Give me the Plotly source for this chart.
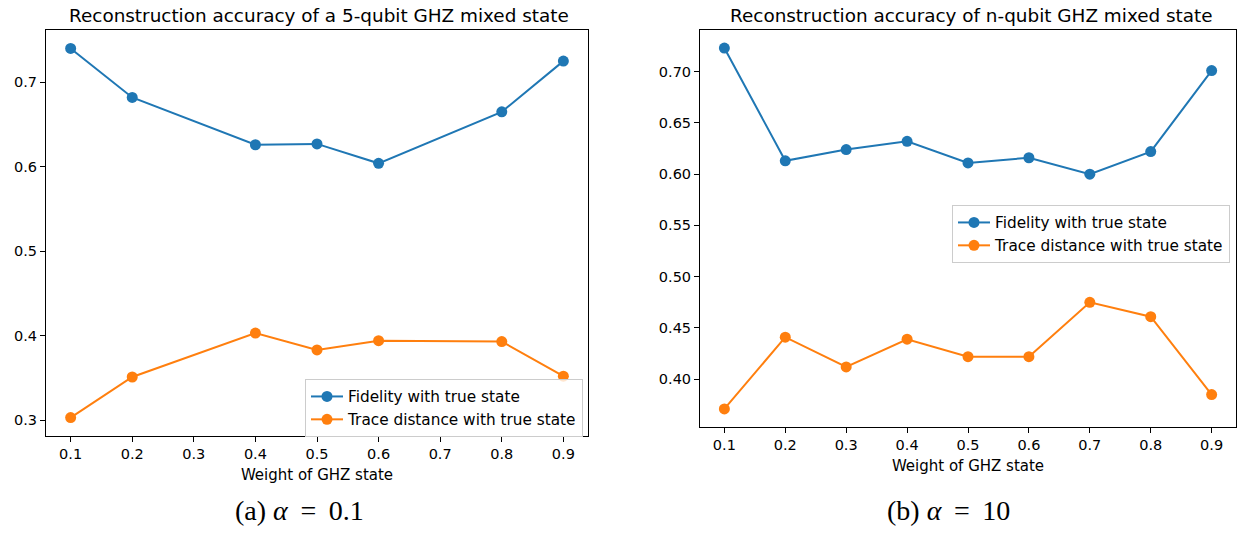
import plotly.graph_objects as go

# Data
x_left = [0.1, 0.2, 0.4, 0.5, 0.6, 0.8, 0.9]
fid_left = [0.740, 0.682, 0.626, 0.627, 0.604, 0.665, 0.725]
td_left = [0.303, 0.351, 0.403, 0.383, 0.394, 0.393, 0.352]

x_right = [0.1, 0.2, 0.3, 0.4, 0.5, 0.6, 0.7, 0.8, 0.9]
fid_right = [0.723, 0.613, 0.624, 0.632, 0.611, 0.616, 0.600, 0.622, 0.701]
td_right = [0.371, 0.441, 0.412, 0.439, 0.422, 0.422, 0.475, 0.461, 0.385]

xticks = [0.1, 0.2, 0.3, 0.4, 0.5, 0.6, 0.7, 0.8, 0.9]
yticks_left = [0.3, 0.4, 0.5, 0.6, 0.7]
yticks_right = [0.40, 0.45, 0.50, 0.55, 0.60, 0.65, 0.70]

BLUE = "#1f77b4"
ORANGE = "#ff7f0e"
W, H = 1238, 533
FONT = "DejaVu Sans"


def px(x):
    return x / W


def py(y):
    return 1 - y / H


fig = go.Figure()
for xs, fid, td, xa, ya, lg in [(x_left, fid_left, td_left, "x", "y", "legend"),
                                (x_right, fid_right, td_right, "x2", "y2", "legend2")]:
    fig.add_trace(go.Scatter(x=xs, y=fid, mode="lines+markers", name="Fidelity with true state",
                             line=dict(color=BLUE, width=2), marker=dict(size=11, color=BLUE),
                             xaxis=xa, yaxis=ya, legend=lg))
    fig.add_trace(go.Scatter(x=xs, y=td, mode="lines+markers", name="Trace distance with true state",
                             line=dict(color=ORANGE, width=2), marker=dict(size=11, color=ORANGE),
                             xaxis=xa, yaxis=ya, legend=lg))

axis_common = dict(showline=True, linecolor="black", linewidth=1, mirror=True,
                   ticks="outside", ticklen=5, tickcolor="black", showgrid=False, zeroline=False,
                   tickfont=dict(family=FONT, size=14.5, color="black"))


def lim(vals):
    lo, hi = min(vals), max(vals)
    m = 0.05 * (hi - lo)
    return [lo - m, hi + m]


legend_common = dict(xanchor="right", yanchor="top", bgcolor="rgba(255,255,255,0.8)",
                     bordercolor="#cccccc", borderwidth=1, font=dict(family=FONT, size=15.3),
                     tracegroupgap=0, itemwidth=32)

fig.update_layout(
    width=W, height=H, margin=dict(l=0, r=0, t=0, b=0),
    paper_bgcolor="white", plot_bgcolor="white",
    font=dict(family=FONT, color="black"),
    showlegend=True,
    xaxis=dict(domain=[px(46), px(588)], range=[0.06, 0.94], tickvals=xticks,
               ticktext=[f"{v:.1f}" for v in xticks], anchor="y",
               title=dict(text="Weight of GHZ state", font=dict(family=FONT, size=15), standoff=8),
               **axis_common),
    yaxis=dict(domain=[py(436), py(30)], range=lim(fid_left + td_left), tickvals=yticks_left,
               ticktext=[f"{v:.1f}" for v in yticks_left], anchor="x", **axis_common),
    xaxis2=dict(domain=[px(700), px(1236)], range=[0.06, 0.94], tickvals=xticks,
                ticktext=[f"{v:.1f}" for v in xticks], anchor="y2",
                title=dict(text="Weight of GHZ state", font=dict(family=FONT, size=15), standoff=8),
                **axis_common),
    yaxis2=dict(domain=[py(427), py(30)], range=lim(fid_right + td_right), tickvals=yticks_right,
                ticktext=[f"{v:.2f}" for v in yticks_right], anchor="x2", **axis_common),
    legend=dict(x=px(583), y=py(379), **legend_common),
    legend2=dict(x=px(1230), y=py(205), **legend_common),
    annotations=[
        dict(text="Reconstruction accuracy of a 5-qubit GHZ mixed state", x=px(319), y=py(15),
             xref="paper", yref="paper", xanchor="center", yanchor="middle", showarrow=False,
             font=dict(family=FONT, size=18.4)),
        dict(text="Reconstruction accuracy of n-qubit GHZ mixed state", x=px(971), y=py(15),
             xref="paper", yref="paper", xanchor="center", yanchor="middle", showarrow=False,
             font=dict(family=FONT, size=18.4)),
        dict(text="(a) <i>α</i>\u2009 = \u20090.1", x=px(299), y=py(510), xref="paper", yref="paper",
             xanchor="center", yanchor="middle", showarrow=False,
             font=dict(family="Liberation Serif", size=28)),
        dict(text="(b) <i>α</i>\u2009 = \u200910", x=px(948), y=py(510), xref="paper", yref="paper",
             xanchor="center", yanchor="middle", showarrow=False,
             font=dict(family="Liberation Serif", size=28)),
    ],
)

fig.write_html("out.html", config={"displayModeBar": False},
               post_script="document.body.style.margin='0px';document.body.style.overflow='hidden';")
